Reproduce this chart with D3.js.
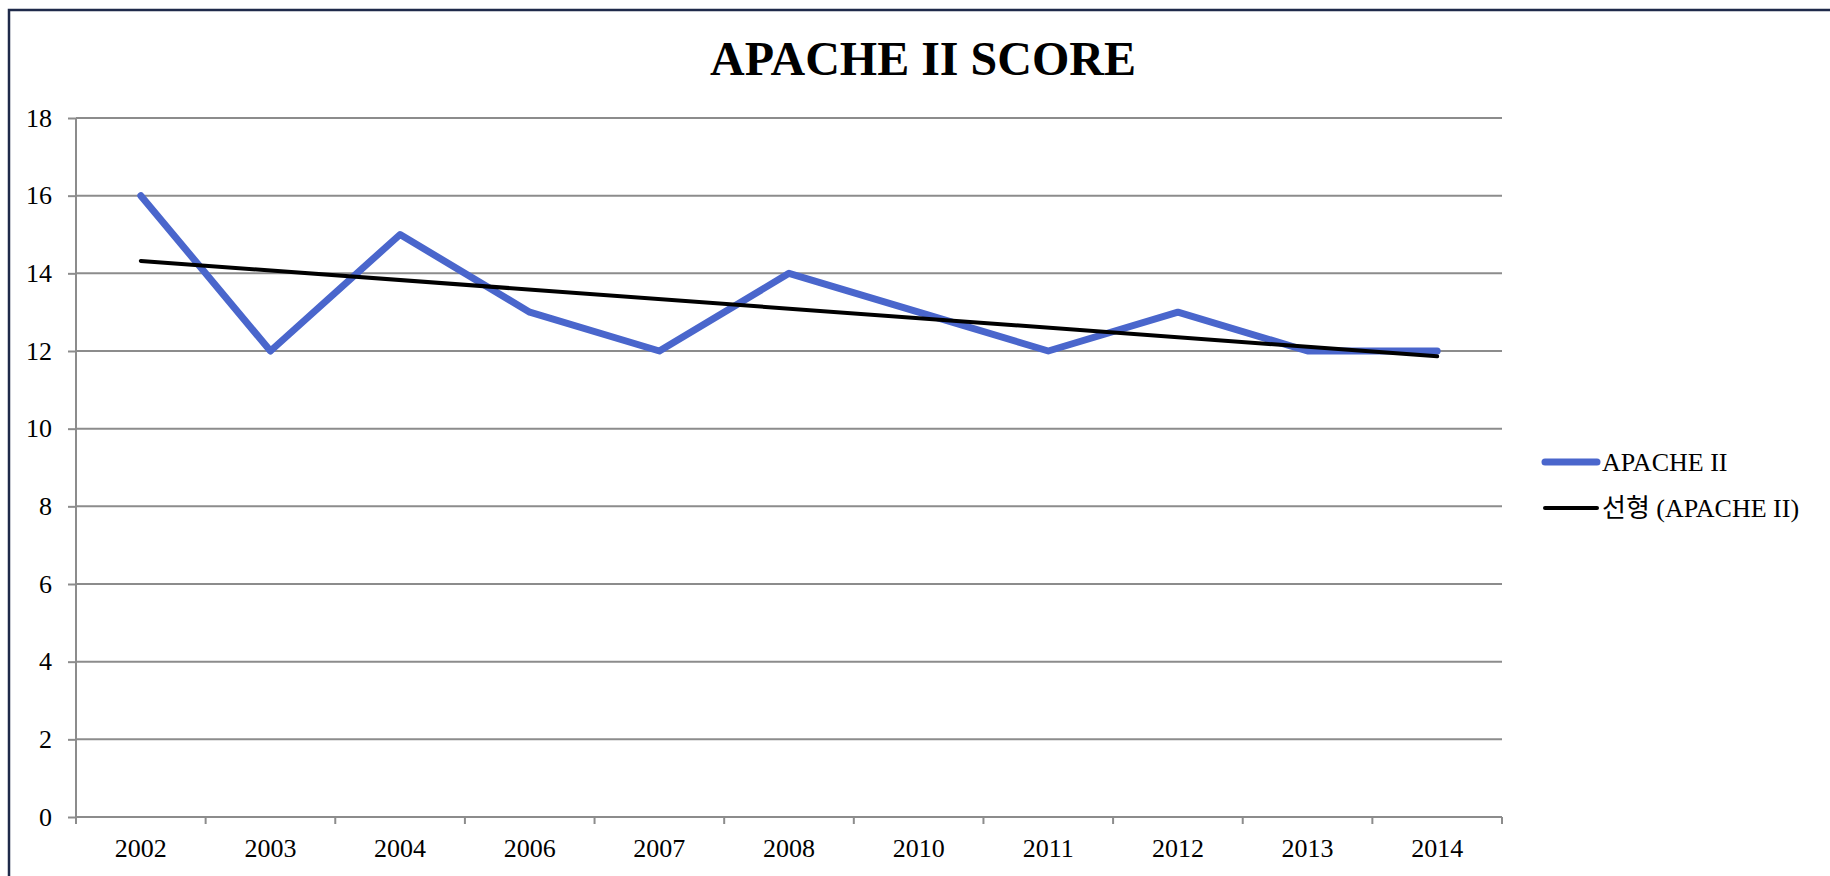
<!DOCTYPE html>
<html>
<head>
<meta charset="utf-8">
<script src="https://cdn.jsdelivr.net/npm/d3@7"></script>
<style>
  html, body { margin: 0; padding: 0; background: #fff; overflow: hidden; }
  svg { display: block; }
  text { font-family: "Liberation Serif", "Times New Roman", "Noto Sans CJK KR", serif; fill: #000; }
</style>
</head>
<body>
<svg id="chart" width="1830" height="876"></svg>
<script>
// values
let years = ["2002", "2003", "2004", "2006", "2007", "2008", "2010", "2011", "2012", "2013", "2014"];
let apache = [16, 12, 15, 13, 12, 14, 13, 12, 13, 12, 12];
let yTicks = [0, 2, 4, 6, 8, 10, 12, 14, 16, 18];
let legendLabels = ["APACHE II", "선형 (APACHE II)"];

let svg = d3.select("#chart");

let margin = { top: 118, left: 76, right: 1502, bottom: 817 };

// frame round the chart (cut off on the right and bottom in the picture)
svg.append("rect")
    .attr("x", 9).attr("y", 10)
    .attr("width", 1900).attr("height", 1000)
    .attr("fill", "none")
    .attr("stroke", "#1f2a4a")
    .attr("stroke-width", 2.5);

svg.append("text")
    .attr("x", 923).attr("y", 75)
    .attr("text-anchor", "middle")
    .style("font-size", "48px")
    .style("font-weight", "bold")
    .text("APACHE II SCORE");

let x = d3.scaleBand()
    .domain(years)
    .range([margin.left, margin.right]);

let y = d3.scaleLinear()
    .domain([0, 18])
    .range([margin.bottom, margin.top]);

// gridlines
svg.append("g")
    .selectAll("line")
    .data(yTicks.filter(d => d > 0))
    .enter().append("line")
    .attr("x1", margin.left).attr("x2", margin.right)
    .attr("y1", d => y(d)).attr("y2", d => y(d))
    .attr("stroke", "#8c8c8c")
    .attr("stroke-width", 2);

// y axis
let yAxis = svg.append("g")
    .attr("transform", "translate(" + margin.left + ",0)")
    .call(d3.axisLeft(y).tickValues(yTicks).tickSize(8).tickPadding(16));

// x axis, ticks sit on the category boundaries
let xAxis = svg.append("g")
    .attr("transform", "translate(0," + margin.bottom + ")")
    .call(d3.axisBottom(x).tickSize(0).tickPadding(22));

xAxis.selectAll(".bound")
    .data(years.map(d => x(d)).concat([margin.right]))
    .enter().append("line")
    .attr("class", "bound")
    .attr("x1", d => d).attr("x2", d => d)
    .attr("y1", 0).attr("y2", 7)
    .attr("stroke", "#8c8c8c")
    .attr("stroke-width", 2);

[yAxis, xAxis].forEach(function(a) {
    a.select(".domain").attr("stroke", "#8c8c8c").attr("stroke-width", 2);
    a.selectAll(".tick line").attr("stroke", "#8c8c8c").attr("stroke-width", 2);
    a.selectAll(".tick text")
        .style("font-size", "26px")
        .style("font-family", "'Liberation Serif', 'Times New Roman', serif")
        .attr("fill", "#000");
});
xAxis.select(".domain").attr("d", "M" + margin.left + ",0H" + margin.right);
yAxis.select(".domain").attr("d", "M0," + margin.bottom + "V" + margin.top);

let cx = d => x(d) + x.bandwidth() / 2;

// linear trend, least squares over category index
let idx = apache.map((d, i) => i + 1);
let mx = d3.mean(idx), my = d3.mean(apache);
let slope = d3.sum(idx, (d, i) => (d - mx) * (apache[i] - my)) / d3.sum(idx, d => (d - mx) * (d - mx));
let trend = idx.map(d => my + slope * (d - mx));

let line = d3.line()
    .x((d, i) => cx(years[i]))
    .y(d => y(d));

svg.append("path")
    .datum(apache)
    .attr("d", line)
    .attr("fill", "none")
    .attr("stroke", "#4a66cc")
    .attr("stroke-width", 7)
    .attr("stroke-linejoin", "round")
    .attr("stroke-linecap", "round");

svg.append("path")
    .datum([trend[0], trend[trend.length - 1]])
    .attr("d", d3.line().x((d, i) => cx(years[i * (years.length - 1)])).y(d => y(d)))
    .attr("fill", "none")
    .attr("stroke", "#000")
    .attr("stroke-width", 4)
    .attr("stroke-linecap", "round");

// legend
let legend = svg.append("g")
    .selectAll("g")
    .data(legendLabels)
    .enter().append("g")
    .attr("transform", (d, i) => "translate(1545," + (462 + i * 46) + ")");

legend.append("line")
    .attr("x1", 0).attr("x2", 52)
    .attr("stroke", (d, i) => i == 0 ? "#4a66cc" : "#000")
    .attr("stroke-width", (d, i) => i == 0 ? 7 : 4)
    .attr("stroke-linecap", "round");

legend.append("text")
    .attr("x", 57)
    .attr("dy", "0.35em")
    .style("font-size", "26px")
    .text(d => d);
</script>
</body>
</html>
